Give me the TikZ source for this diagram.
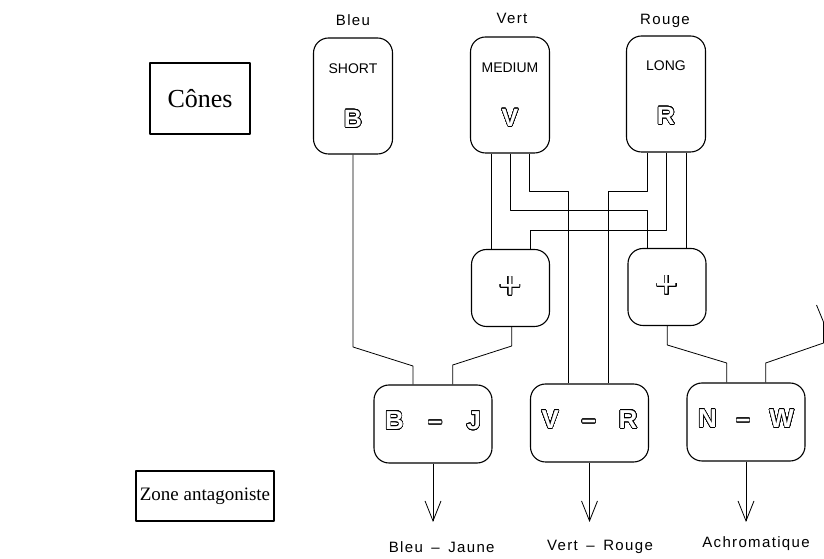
\documentclass[tikz,border=0pt]{standalone}
\usepackage{fontspec}
\setmainfont{Liberation Serif}
\setsansfont{Liberation Sans}
\newfontfamily\lblfont{Liberation Sans}[LetterSpace=9]
\usepackage{contour}
\usetikzlibrary{positioning,arrows.meta}
\contourlength{0.6pt}
\contournumber{32}
\newcommand{\hollow}[1]{\contour{black}{\textcolor{white}{#1}}}

\begin{document}
\begin{tikzpicture}[x=1pt, y=1pt, line join=round,
                    cone box/.style={draw, line width=1.1pt, rounded corners=15pt, minimum width=79pt, minimum height=116pt},
                    plus box/.style={draw, line width=1.1pt, rounded corners=15pt, minimum width=78pt, minimum height=77pt,
                                     font=\sffamily\fontsize{38}{40}\selectfont},
                    opp box/.style={draw, line width=1.1pt, rounded corners=15pt, minimum width=118pt, minimum height=78pt,
                                    text height=19pt, text depth=8pt, font=\sffamily\bfseries\fontsize{26}{30}\selectfont},
                    tag box/.style={draw, line width=1.3pt},
                    wire/.style={line width=0.8pt},
                    lbl/.style={font=\lblfont\fontsize{15}{18}\selectfont, anchor=base},
                    small/.style={font=\sffamily\fontsize{14}{16}\selectfont, anchor=base},
                    big/.style={font=\sffamily\bfseries\fontsize{25}{30}\selectfont, anchor=base},
                    arr/.style={line width=0.8pt, -{Straight Barb[length=20pt, width=16pt, line width=0.8pt]}}]
\useasboundingbox (0,0) rectangle (824,559);

% left captions
\node[tag box, minimum width=100pt, minimum height=71pt, font=\fontsize{26}{28}\selectfont] (cones) at (200,460.5) {Cônes};
\node[tag box, minimum width=138pt, minimum height=50pt, font=\fontsize{19}{21}\selectfont, inner sep=1pt] (zone) at (205,63) {Zone antagoniste};

% cones
\node[cone box] (B) at (353,463) {};
\node[cone box] (V) at (510,464) {};
\node[cone box] (R) at (666,465) {};
\node[lbl] (bleu) at (353,533) {Bleu};
\node[lbl] (vert) at (512,535) {Vert};
\node[lbl] (rouge) at (665,534) {Rouge};
\node[small] (short) at ([yshift=-36pt]B.north) {SHORT};
\node[small] (medium) at ([yshift=-36pt]V.north) {MEDIUM};
\node[small] (long) at ([yshift=-35pt]R.north) {LONG};
\node[big] (b) at ([yshift=-90pt]B.north) {\hollow{B}};
\node[big] (v) at ([yshift=-90pt]V.north) {\hollow{V}};
\node[big] (r) at ([yshift=-89pt]R.north) {\hollow{R}};

% sums
\node[plus box] (P1) at (510.5,271) {\hollow{+}};
\node[plus box] (P2) at (667,272) {\hollow{+}};

% opponent channels
\node[opp box] (BJ) at (433,135) {\makebox[96pt]{\hollow{B}\hfill\hollow{–}\hfill\hollow{J}}};
\node[opp box] (VR) at (589.5,136) {\makebox[96pt]{\hollow{V}\hfill\hollow{–}\hfill\hollow{R}}};
\node[opp box] (NW) at (746,137) {\makebox[96pt]{\hollow{N}\hfill\hollow{–}\hfill\hollow{W}}};

% wiring
\draw[wire] (B.south) -- (353,212) -- (413,193) -- (413,0 |- BJ.north);
\draw[wire] (491,0 |- V.south) -- (491,0 |- P1.north);
\draw[wire] (510,0 |- V.south) -- (510,348.5) -- (647,348.5) -- (647,0 |- P2.north);
\draw[wire] (529.5,0 |- V.south) -- (529.5,367.5) -- (568.7,367.5) -- (568.7,0 |- VR.north);
\draw[wire] (647,0 |- R.south) -- (647,367.5) -- (608,367.5) -- (608,0 |- VR.north);
\draw[wire] (666.7,0 |- R.south) -- (666.7,329) -- (530,329) -- (530,0 |- P1.north);
\draw[wire] (686.7,0 |- R.south) -- (686.7,0 |- P2.north);
\draw[wire] (511.7,0 |- P1.south) -- (511.7,213) -- (452.7,194) -- (452.7,0 |- BJ.north);
\draw[wire] (667.3,0 |- P2.south) -- (667.3,214) -- (726.7,196) -- (726.7,0 |- NW.north);
\coordinate (cut) at (816.5,254);
\draw[wire] (765.7,0 |- NW.north) -- (765.7,196) -- (823.5,216) -- (823.5,237) -- (cut);

% outputs
\draw[arr] (BJ.south) -- (BJ.south |- 0,37);
\draw[arr] (VR.south) -- (VR.south |- 0,37);
\draw[arr] (NW.south) -- (NW.south |- 0,37);
\node[lbl] (bjl) at (441.7,6.5) {Bleu\hspace{3pt} – \hspace{3pt}Jaune};
\node[lbl] (vrl) at (600,8.5) {Vert\hspace{3pt} – \hspace{3pt}Rouge};
\node[lbl] (nwl) at (756,11) {Achromatique};
\end{tikzpicture}
\end{document}
